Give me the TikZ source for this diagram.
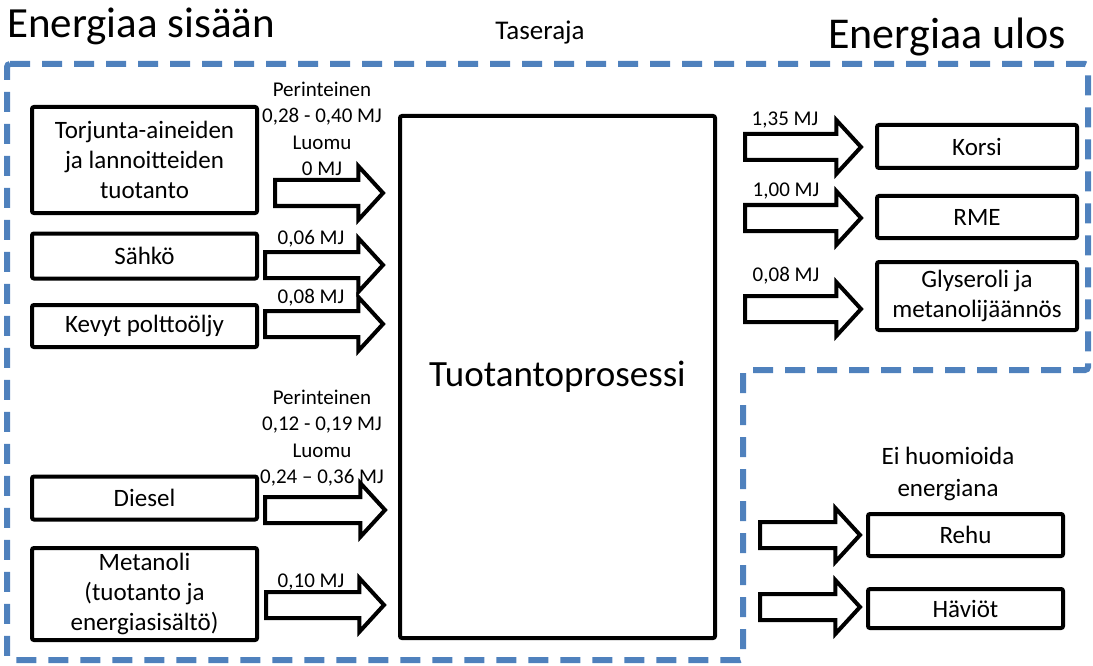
\documentclass[tikz,border=0pt]{standalone}
\usepackage{fontspec}
\setmainfont{Carlito}
\usetikzlibrary{shapes.arrows}
\definecolor{tblue}{HTML}{4F81BD}
\begin{document}
\begin{tikzpicture}[x=1pt,y=-1pt,
  box/.style={draw=black,line width=4pt,rounded corners=2pt,fill=white,align=center,font=\fontsize{25}{30}\selectfont,inner sep=0pt},
  blockarrow/.style={single arrow,draw=black,line width=4pt,fill=white,single arrow head extend=14pt,minimum width=50pt,inner sep=11pt,outer sep=0pt,single arrow tip angle=95,anchor=tail},
  lbl/.style={font=\fontsize{21}{26.5}\selectfont,align=center,inner sep=0pt},
  boundary/.style={draw=tblue,line width=6pt,dash pattern=on 20pt off 12pt,rounded corners=3pt}
]
\useasboundingbox (0,0) rectangle (1093,666);
\draw[boundary] (7,64) -- (1088,64) -- (1088,370) -- (743,370) -- (743,660) -- (7,660) -- cycle;

% titles
\node[anchor=west,font=\fontsize{43}{50}\selectfont,inner sep=0pt] (tin) at (7,26) {Energiaa sisään};
\node[anchor=east,font=\fontsize{44}{50}\selectfont,inner sep=0pt] (tout) at (1066,37) {Energiaa ulos};
\node[lbl,font=\fontsize{27}{30}\selectfont] (tase) at (540,33) {Taseraja};

% main process
\node[box,minimum width=315pt,minimum height=522pt,font=\fontsize{37}{42}\selectfont] (proc) at (557.5,377) {Tuotantoprosessi};

% input boxes
\node[box,minimum width=225pt,minimum height=106pt] (torj) at (144.5,160) {Torjunta-aineiden\\ja lannoitteiden\\tuotanto};
\node[box,minimum width=225pt,minimum height=45pt] (sahko) at (144.5,256) {Sähkö};
\node[box,minimum width=225pt,minimum height=42pt] (kevyt) at (144.5,326) {Kevyt polttoöljy};
\node[box,minimum width=225pt,minimum height=43pt] (diesel) at (144.5,498) {Diesel};
\node[box,minimum width=225pt,minimum height=92pt] (metan) at (144.5,594) {Metanoli\\(tuotanto ja\\energiasisältö)};

% input arrows
\node[blockarrow,minimum height=108pt] (a1) at (275,193) {};
\node[blockarrow,minimum height=118pt] (a2) at (265,265) {};
\node[blockarrow,minimum height=118pt] (a3) at (265,324) {};
\node[blockarrow,minimum height=120pt] (a4) at (265,510) {};
\node[blockarrow,minimum height=118pt] (a5) at (266,605) {};

% input labels
\node[lbl] (l1) at (322,129) {Perinteinen\\0,28 - 0,40 MJ\\Luomu\\0 MJ};
\node[lbl] (l2) at (311,239) {0,06 MJ};
\node[lbl] (l3) at (311,298) {0,08 MJ};
\node[lbl] (l4) at (322,438) {Perinteinen\\0,12 - 0,19 MJ\\Luomu\\0,24 – 0,36 MJ};
\node[lbl] (l5) at (311,582) {0,10 MJ};

% output boxes
\node[box,minimum width=200pt,minimum height=43pt] (korsi) at (977,146.5) {Korsi};
\node[box,minimum width=200pt,minimum height=42pt] (rme) at (977,217) {RME};
\node[box,minimum width=200pt,minimum height=68pt] (glys) at (977,296) {Glyseroli ja\\metanolijäännös};
\node[box,minimum width=195pt,minimum height=42pt] (rehu) at (965.5,535) {Rehu};
\node[box,minimum width=195pt,minimum height=39pt] (havi) at (965.5,608.5) {Häviöt};

% output arrows
\node[blockarrow,minimum height=116pt] (b1) at (745,147) {};
\node[blockarrow,minimum height=116pt] (b2) at (745,218) {};
\node[blockarrow,minimum height=116pt] (b3) at (745,309) {};
\node[blockarrow,minimum height=100pt] (b4) at (760,535) {};
\node[blockarrow,minimum height=100pt] (b5) at (760,607) {};

% output labels
\node[lbl] (o1) at (785,120) {1,35 MJ};
\node[lbl] (o2) at (786,191) {1,00 MJ};
\node[lbl] (o3) at (786,276) {0,08 MJ};
\node[box,draw=none,fill=none,font=\fontsize{25}{32}\selectfont] (ei) at (948,474) {Ei huomioida\\energiana};
\end{tikzpicture}
\end{document}
